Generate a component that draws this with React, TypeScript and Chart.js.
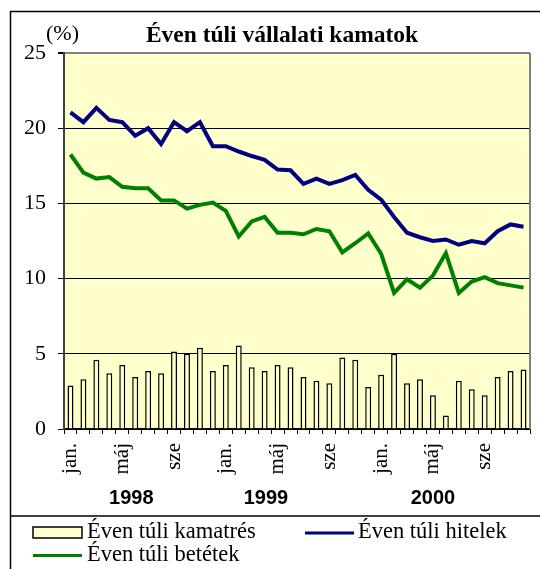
import React, { useEffect, useRef } from "react";
import { Chart, registerables } from "chart.js";

Chart.register(...registerables);

const categories: string[] = [
  "1998-01","1998-02","1998-03","1998-04","1998-05","1998-06","1998-07","1998-08","1998-09","1998-10","1998-11","1998-12",
  "1999-01","1999-02","1999-03","1999-04","1999-05","1999-06","1999-07","1999-08","1999-09","1999-10","1999-11","1999-12",
  "2000-01","2000-02","2000-03","2000-04","2000-05","2000-06","2000-07","2000-08","2000-09","2000-10","2000-11","2000-12",
];

const monthTickLabels: string[] = ["jan.", "", "", "", "máj", "", "", "", "sze", "", "", ""];

const yearLabels: string[] = ["1998", "1999", "2000"];
const yearLabelAt: number[] = [4.7, 15.1, 28];

const kamatres: number[] = [
  2.9, 3.3, 4.6, 3.7, 4.25, 3.45, 3.85, 3.7, 5.15, 5.0, 5.4, 3.85,
  4.25, 5.55, 4.1, 3.85, 4.25, 4.1, 3.45, 3.2, 3.05, 4.75, 4.6, 2.8,
  3.6, 5.0, 3.05, 3.3, 2.25, 0.9, 3.2, 2.65, 2.25, 3.45, 3.85, 3.95,
];

const hitelek: number[] = [
  21.05, 20.4, 21.35, 20.55, 20.4, 19.5, 20.0, 18.95, 20.4, 19.8, 20.4, 18.8,
  18.8, 18.45, 18.15, 17.9, 17.25, 17.2, 16.3, 16.65, 16.3, 16.55, 16.9, 15.9,
  15.25, 14.1, 13.05, 12.75, 12.5, 12.6, 12.25, 12.5, 12.35, 13.15, 13.6, 13.45,
];

const betetek: number[] = [
  18.25, 17.05, 16.65, 16.75, 16.1, 16.0, 16.0, 15.2, 15.2, 14.65, 14.9, 15.05,
  14.5, 12.8, 13.8, 14.1, 13.05, 13.05, 12.95, 13.3, 13.15, 11.75, 12.35, 13.0,
  11.65, 9.05, 9.95, 9.4, 10.2, 11.7, 9.05, 9.8, 10.1, 9.7, 9.55, 9.4,
];

const seriesNames: string[] = ["Éven túli kamatrés", "Éven túli hitelek", "Éven túli betétek"];
const chartTitle = "Éven túli vállalati kamatok";
const unitLabel = "(%)";

const SERIF = "'Liberation Serif', 'Times New Roman', serif";
const SANS = "'Liberation Sans', Arial, sans-serif";
const PLOT_BG = "#FFFFCC";

const decorPlugin = {
  id: "decor",
  beforeDraw(chart: any) {
    const ctx = chart.ctx;
    const { left, top, right, bottom } = chart.chartArea;
    ctx.save();
    ctx.fillStyle = "#ffffff";
    ctx.fillRect(0, 0, chart.width, chart.height);
    ctx.fillStyle = PLOT_BG;
    ctx.fillRect(left, top, right - left, bottom - top);
    ctx.strokeStyle = "#000";
    ctx.lineWidth = 1.5;
    ctx.beginPath();
    ctx.moveTo(10.5, chart.height);
    ctx.lineTo(10.5, 11.5);
    ctx.lineTo(chart.width, 11.5);
    ctx.moveTo(10.5, 516);
    ctx.lineTo(chart.width, 516);
    ctx.stroke();
    ctx.restore();
  },
  afterDraw(chart: any) {
    const ctx = chart.ctx;
    const { top, right, bottom } = chart.chartArea;
    ctx.save();
    ctx.strokeStyle = "#808080";
    ctx.lineWidth = 2;
    ctx.beginPath();
    ctx.moveTo(right, top);
    ctx.lineTo(right, bottom);
    ctx.stroke();

    ctx.fillStyle = "#000";
    ctx.textBaseline = "alphabetic";
    ctx.textAlign = "center";
    ctx.font = `bold 23.5px ${SERIF}`;
    ctx.fillText(chartTitle, 282, 42);
    ctx.textAlign = "left";
    ctx.font = `22px ${SERIF}`;
    ctx.fillText(unitLabel, 46, 40);

    const xs = chart.scales.x;
    ctx.font = `bold 20px ${SANS}`;
    ctx.textAlign = "center";
    yearLabels.forEach((y, i) => {
      ctx.fillText(y, xs.getPixelForValue(yearLabelAt[i]), 504);
    });

    const ds = chart.data.datasets;
    ctx.font = `22.5px ${SERIF}`;
    ctx.textAlign = "left";
    ctx.fillStyle = ds[0].backgroundColor;
    ctx.fillRect(33, 527, 49, 11);
    ctx.strokeStyle = "#000";
    ctx.lineWidth = 1.5;
    ctx.strokeRect(33, 527, 49, 11);
    ctx.fillStyle = "#000";
    ctx.fillText(ds[0].label, 87, 538);
    const lineItem = (d: any, x: number, y: number, tx: number, ty: number) => {
      ctx.strokeStyle = d.borderColor;
      ctx.lineWidth = 3;
      ctx.beginPath();
      ctx.moveTo(x, y);
      ctx.lineTo(x + 49, y);
      ctx.stroke();
      ctx.fillStyle = "#000";
      ctx.fillText(d.label, tx, ty);
    };
    lineItem(ds[1], 305, 533, 358, 538);
    lineItem(ds[2], 33, 555.5, 87, 561);
    ctx.restore();
  },
};

export default function App() {
  const ref = useRef<HTMLCanvasElement | null>(null);

  useEffect(() => {
    if (!ref.current) return;
    const chart = new Chart(ref.current, {
      type: "bar",
      data: {
        labels: categories,
        datasets: [
          {
            type: "bar",
            label: seriesNames[0],
            data: kamatres,
            backgroundColor: PLOT_BG,
            borderColor: "#000",
            borderWidth: 1.5,
            barPercentage: 0.46,
            categoryPercentage: 1,
            order: 3,
          },
          {
            type: "line",
            label: seriesNames[1],
            data: hitelek,
            borderColor: "#000080",
            backgroundColor: "#000080",
            borderWidth: 4,
            pointRadius: 0,
            tension: 0,
            order: 1,
          },
          {
            type: "line",
            label: seriesNames[2],
            data: betetek,
            borderColor: "#008000",
            backgroundColor: "#008000",
            borderWidth: 4,
            pointRadius: 0,
            tension: 0,
            order: 2,
          },
        ],
      } as any,
      options: {
        animation: false,
        responsive: false,
        maintainAspectRatio: false,
        layout: { padding: { left: 0, top: 53, right: 10, bottom: 0 } },
        plugins: {
          legend: { display: false },
          title: { display: false },
          tooltip: { enabled: false },
        },
        scales: {
          x: {
            offset: true,
            grid: {
              offset: true,
              drawOnChartArea: false,
              tickLength: 5,
              tickColor: "#000",
              lineWidth: 1,
            },
            border: { color: "#000", width: 1.5 },
            ticks: {
              autoSkip: false,
              minRotation: 90,
              maxRotation: 90,
              padding: 9,
              color: "#000",
              font: { family: SERIF, size: 21 },
              callback: (_v: any, i: number) => monthTickLabels[i % 12],
            },
            afterFit: (s: any) => {
              s.height = 140;
              s.paddingLeft = 0;
              s.paddingRight = 0;
            },
          },
          y: {
            min: 0,
            max: 25,
            ticks: {
              stepSize: 5,
              padding: 12,
              color: "#000",
              font: { family: SERIF, size: 22 },
            },
            grid: {
              color: (c: any) =>
                c.tick && c.tick.value === 25 ? "#808080" : "#000",
              tickColor: "#000",
              tickLength: 6,
              lineWidth: (c: any) => (c.tick && c.tick.value === 25 ? 2 : 1),
            },
            border: { color: "#404040", width: 2 },
            afterFit: (s: any) => {
              s.width = 64;
              s.paddingTop = 0;
              s.paddingBottom = 0;
            },
          },
        },
      } as any,
      plugins: [decorPlugin],
    });
    return () => chart.destroy();
  }, []);

  return (
    <div style={{ position: "fixed", left: 0, top: 0, width: 540, height: 569, background: "#fff" }}>
      <canvas ref={ref} width={540} height={569} style={{ width: 540, height: 569, display: "block" }} />
    </div>
  );
}
